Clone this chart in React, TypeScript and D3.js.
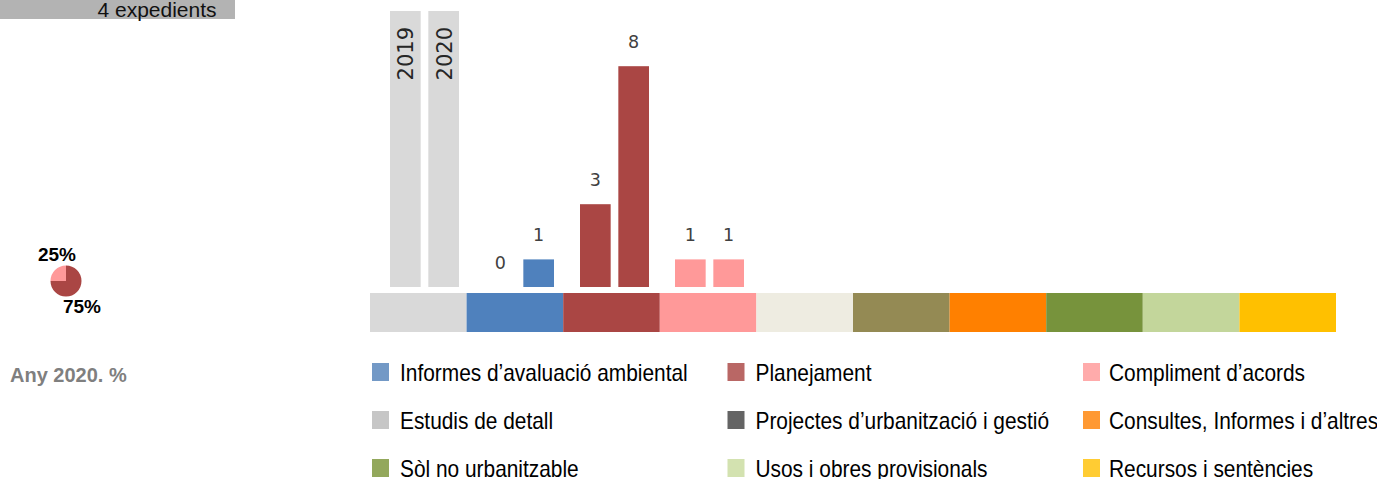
import * as d3 from 'd3';
import * as React from 'react';

// strip segments (left to right) and their colours
const segments = ['Capçalera', 'Informes', 'Planejament', 'Compliment', 'Projectes', 'Estudis', 'Consultes', 'Sòl', 'Usos', 'Recursos'];
const segmentColors = ['#d9d9d9', '#4f81bd', '#aa4644', '#ff9999', '#eeece1', '#948a54', '#ff8000', '#77933c', '#c3d69b', '#ffc000'];

const years = ['2019', '2020'];
// bar groups: first is the year header, then [2019, 2020] values
const barSegments = ['Capçalera', 'Informes', 'Planejament', 'Compliment'];
const values2019 = [0, 3, 1];
const values2020 = [1, 8, 1];
const yMax = 10;

const pieLabels = ['25%', '75%'];
const pieValues = [25, 75];
const pieColors = ['#ff9999', '#aa4644'];

const legendLabels = [
  'Informes d\u2019avaluació ambiental', 'Planejament', 'Compliment d\u2019acords',
  'Estudis de detall', 'Projectes d\u2019urbanització i gestió', 'Consultes, Informes i d\u2019altres',
  'Sòl no urbanitzable', 'Usos i obres provisionals', 'Recursos i sentències'
];
const legendColors = ['#7399c6', '#b96765', '#ffabab', '#c6c6c6', '#646464', '#ff9933', '#93a85c', '#d3e2b0', '#ffcc33'];

const FONT = 'Liberation Sans, Arial, sans-serif';
const NUM_FONT = 'DejaVu Sans, sans-serif';

export default function App() {
  const x = d3.scaleBand<string>().domain(segments).range([370, 1336]).padding(0);
  const xg = d3.scaleBand<string>().domain(barSegments).range([377, 757]).padding(0);
  const xi = d3.scaleBand<string>().domain(years).range([13, 82]).paddingInner(0.2);
  const y = d3.scaleLinear().domain([0, yMax]).range([287, 11]);

  const pie = d3.pie<number>().sort(null).startAngle(0).endAngle(-2 * Math.PI)(pieValues);
  const arc = d3.arc<d3.PieArcDatum<number>>().innerRadius(0).outerRadius(15.5);

  const legX = d3.scalePoint<number>().domain([0, 1, 2]).range([372, 1083]);
  const legY = d3.scalePoint<number>().domain([0, 1, 2]).range([372, 468]);

  const bars: any[] = [];
  barSegments.slice(1).forEach((s, i) => {
    [values2019[i], values2020[i]].forEach((v, j) => {
      bars.push({ seg: s, year: years[j], v });
    });
  });

  return (
    <svg width={1377} height={479} style={{ position: 'absolute', left: 0, top: 0 }}>
      <rect x={0} y={0} width={235} height={19} fill="#b3b3b3" />
      <text x={157} y={16.5} textAnchor="middle" fontFamily={FONT} fontSize={21} fill="#111">4 expedients</text>

      {segments.map((s, i) => (
        <rect key={s} x={x(s)} y={293} width={x.bandwidth()} height={39} fill={segmentColors[i]} />
      ))}

      {years.map(yr => (
        <g key={yr}>
          <rect x={xg(barSegments[0])! + xi(yr)!} y={y(yMax)} width={xi.bandwidth()} height={y(0) - y(yMax)} fill="#d9d9d9" />
          <text transform={`translate(${xg(barSegments[0])! + xi(yr)! + xi.bandwidth() / 2 + 8},${y(yMax) + 16}) rotate(-90)`}
            textAnchor="end" fontFamily={NUM_FONT} fontSize={21} fill="#262626">{yr}</text>
        </g>
      ))}

      {bars.map((b, i) => {
        const cx = xg(b.seg)! + xi(b.year)!;
        const col = segmentColors[segments.indexOf(b.seg)];
        return (
          <g key={i}>
            {b.v > 0 && <rect x={cx} y={y(b.v)} width={xi.bandwidth()} height={y(0) - y(b.v)} fill={col} />}
            <text x={cx + xi.bandwidth() / 2} y={y(b.v) - 18} textAnchor="middle"
              fontFamily={NUM_FONT} fontSize={17.5} fill="#404040">{b.v}</text>
          </g>
        );
      })}

      <g transform="translate(66,281)">
        {pie.map((p, i) => <path key={i} d={arc(p)!} fill={pieColors[i]} />)}
      </g>
      <text x={57} y={260.5} textAnchor="middle" fontFamily={FONT} fontWeight="bold" fontSize={19} fill="#000">{pieLabels[0]}</text>
      <text x={82} y={313} textAnchor="middle" fontFamily={FONT} fontWeight="bold" fontSize={19} fill="#000">{pieLabels[1]}</text>

      <text x={10} y={381.5} fontFamily={FONT} fontWeight="bold" fontSize={20} fill="#7f7f7f">Any 2020. %</text>

      {legendLabels.map((l, i) => {
        const lx = legX(i % 3)!;
        const ly = legY(Math.floor(i / 3))!;
        return (
          <g key={l}>
            <rect x={lx} y={ly - 9} width={17} height={18} fill={legendColors[i]} />
            <text transform={`translate(${lx + (i % 3 === 2 ? 26 : 28)},${ly + 9}) scale(0.87,1)`}
              fontFamily={FONT} fontSize={24} fill="#000">{l}</text>
          </g>
        );
      })}
    </svg>
  );
}
